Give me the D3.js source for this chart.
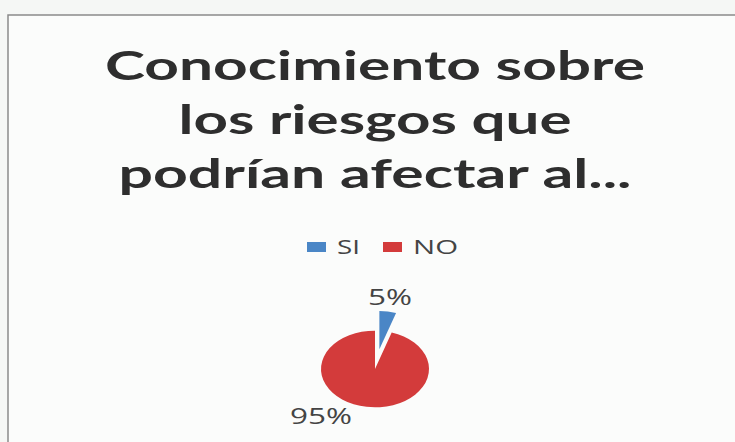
<!DOCTYPE html>
<html><head><meta charset="utf-8">
<script src="https://cdn.jsdelivr.net/npm/d3@7"></script>
<style>
html,body{margin:0;padding:0;background:#f5f7f5;}
svg{display:block;}
</style></head>
<body>
<svg id="chart" width="735" height="442"></svg>
<script>
const titleLines = ["Conocimiento sobre", "los riesgos que", "podrían afectar al..."];
const categories = ["SI", "NO"];
const values = [5, 95];
const labels = ["5%", "95%"];
const colors = ["#4a86c6", "#d33b3b"];

const svg = d3.select("#chart");
svg.append("rect").attr("width", 735).attr("height", 442).attr("fill", "#f5f7f5");
// chart frame (extends beyond the page at right and bottom)
svg.append("rect").attr("x", 8).attr("y", 15).attr("width", 760).attr("height", 460)
  .attr("fill", "#fbfcfb").attr("stroke", "#8a8a8a").attr("stroke-width", 1.5);

// title
const titleW = [540, 393, 513];
const baselines = [80, 134, 188];
const tg = svg.append("g");
titleLines.forEach((t, i) => {
  tg.append("text").attr("x", 375).attr("y", baselines[i]).attr("text-anchor", "middle")
    .attr("font-family", "Lato, 'Open Sans', sans-serif").attr("font-weight", "bold")
    .attr("font-size", 41).attr("fill", "#2e2e2e")
    .attr("textLength", titleW[i]).attr("lengthAdjust", "spacingAndGlyphs")
    .text(t);
});

// legend (scan is stretched horizontally)
const legendX = d3.scalePoint().domain(categories).range([307, 383]);
const legendW = [23, 45];
const lg = svg.append("g");
categories.forEach((c, i) => {
  const x = legendX(c);
  lg.append("rect").attr("x", x).attr("y", 242).attr("width", 19).attr("height", 10).attr("fill", colors[i]);
  lg.append("text").attr("x", x + 30).attr("y", 254)
    .attr("font-family", "'Open Sans', sans-serif").attr("font-size", 20).attr("fill", "#444")
    .attr("textLength", legendW[i]).attr("lengthAdjust", "spacingAndGlyphs")
    .text(c);
});

// pie (scanned image is stretched -> ellipse)
const cx = 375, cy = 369, r = 54, sy = 0.71;
const pie = d3.pie().sort(null).value(d => d)(values);
const arc = d3.arc().innerRadius(0).outerRadius(r);
const explode = [28, 0];
const pg = svg.append("g").attr("transform", `translate(${cx},${cy}) scale(1,${sy})`);
pie.forEach((p, i) => {
  const mid = (p.startAngle + p.endAngle) / 2;
  const dx = explode[i] * Math.sin(mid), dy = -explode[i] * Math.cos(mid);
  pg.append("path").attr("d", arc(p)).attr("fill", colors[i])
    .attr("transform", `translate(${dx},${dy})`);
});

// data labels
const labelPos = [[390, 305], [321, 424]];
const labelW = [44, 62];
labels.forEach((l, i) => {
  svg.append("text").attr("x", labelPos[i][0]).attr("y", labelPos[i][1]).attr("text-anchor", "middle")
    .attr("font-family", "'Open Sans', sans-serif").attr("font-size", 22).attr("fill", "#444")
    .attr("textLength", labelW[i]).attr("lengthAdjust", "spacingAndGlyphs")
    .text(l);
});
</script>
</body></html>
